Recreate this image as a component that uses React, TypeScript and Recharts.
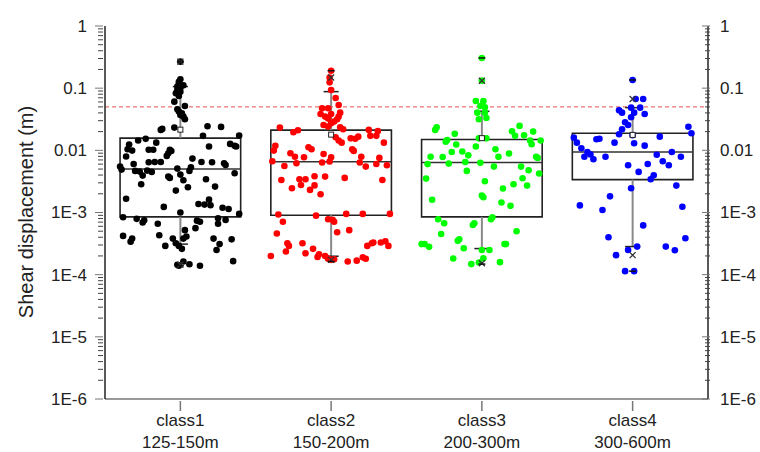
import {
  ComposedChart,
  Scatter,
  XAxis,
  YAxis,
  ReferenceArea,
  ReferenceLine,
  ReferenceDot,
} from 'recharts';

const categories = ['class1', 'class2', 'class3', 'class4'];
const depthRanges = ['125-150m', '150-200m', '200-300m', '300-600m'];
const seriesColors = ['#000000', '#ff0000', '#00ff00', '#0000ff'];

// [jittered category position, shear displacement in m]
const class1Points: [number, number][] = [
  [1.0, 0.267], [1.0, 0.139], [0.99, 0.127], [0.99, 0.117], [1.02, 0.111], [0.98, 0.106],
  [1.0, 0.102], [0.98, 0.0936], [1.0, 0.0879], [0.97, 0.0827], [0.99, 0.075], [0.96, 0.0607],
  [1.03, 0.0517], [0.98, 0.0457], [0.99, 0.042], [1.01, 0.0394], [1.0, 0.0371], [1.02, 0.0349],
  [1.03, 0.0316], [0.88, 0.0221], [0.87, 0.0213], [0.96, 0.0232], [1.18, 0.0244], [1.27, 0.0238],
  [1.15, 0.0171], [1.39, 0.0173], [0.66, 0.0124], [0.72, 0.0144], [0.77, 0.0153], [0.84, 0.0133],
  [0.65, 0.0104], [0.68, 0.0099], [0.79, 0.0102], [0.82, 0.0102], [0.93, 0.0102], [0.94, 0.00977],
  [0.92, 0.00897], [1.33, 0.0127], [1.36, 0.0118], [1.37, 0.0115], [1.19, 0.0115], [0.64, 0.00794],
  [0.69, 0.00604], [0.79, 0.00643], [0.83, 0.0065], [0.87, 0.0065], [0.91, 0.00813], [1.08, 0.00736],
  [1.14, 0.0065], [1.21, 0.00643], [1.29, 0.0062], [1.3, 0.00582], [0.6, 0.00548], [0.61, 0.0049],
  [0.7, 0.00467], [0.73, 0.00455], [0.75, 0.00392], [0.78, 0.00472], [0.81, 0.0045], [0.98, 0.00508],
  [1.07, 0.00535], [1.06, 0.00467], [1.36, 0.00428], [1.0, 0.00407], [0.92, 0.00378], [0.93, 0.0036],
  [1.02, 0.0033], [1.17, 0.00343], [0.74, 0.00285], [1.05, 0.00255], [1.23, 0.00261], [0.97, 0.00225],
  [0.64, 0.00166], [1.19, 0.00161], [1.12, 0.00137], [1.16, 0.00134], [1.2, 0.00131], [0.89, 0.00123],
  [1.28, 0.00119], [1.32, 0.00114], [1.0, 0.001], [1.39, 0.00095], [0.62, 0.00084], [0.71, 0.00079],
  [0.76, 0.00075], [0.75, 0.00069], [0.85, 0.00066], [1.11, 0.00074], [1.13, 0.00071], [1.25, 0.00081],
  [1.3, 0.00076], [1.25, 0.00066], [1.1, 0.00056], [1.03, 0.00052], [0.62, 0.00042], [0.68, 0.00038],
  [0.67, 0.00034], [0.86, 0.00043], [0.95, 0.00038], [0.97, 0.00032], [1.02, 0.00038], [1.04, 0.00041],
  [0.99, 0.00029], [1.01, 0.00026], [0.9, 0.00029], [1.22, 0.00038], [1.34, 0.00037], [1.26, 0.00031],
  [1.24, 0.00025], [0.98, 0.000144], [0.99, 0.000139], [1.02, 0.000163], [1.06, 0.000147],
  [1.13, 0.000139], [1.35, 0.000165],
];

const class2Points: [number, number][] = [
  [2.0, 0.191], [1.99, 0.148], [1.99, 0.124], [2.0, 0.0936], [2.03, 0.0695], [2.05, 0.0537],
  [1.94, 0.0475], [1.98, 0.0475], [2.06, 0.0404], [1.93, 0.0385], [2.0, 0.0385], [1.96, 0.0349],
  [1.98, 0.0324], [2.05, 0.0349], [2.04, 0.0316], [2.02, 0.029], [2.0, 0.0272], [1.95, 0.0256],
  [1.98, 0.0241], [2.06, 0.0235], [2.08, 0.0218], [1.66, 0.0232], [1.75, 0.0195], [1.78, 0.021],
  [2.25, 0.0213], [2.31, 0.0205], [2.26, 0.0171], [2.3, 0.0171], [2.03, 0.0162], [2.05, 0.0144],
  [2.07, 0.0133], [2.13, 0.0156], [2.16, 0.0154], [2.18, 0.0166], [2.35, 0.0133], [1.63, 0.0118],
  [1.62, 0.0099], [1.85, 0.0112], [1.87, 0.0104], [1.73, 0.009], [1.76, 0.0079], [1.82, 0.00774],
  [1.95, 0.00875], [2.0, 0.00774], [2.14, 0.0104], [2.15, 0.0098], [2.2, 0.0079], [2.32, 0.00755],
  [1.61, 0.00667], [1.69, 0.00561], [1.77, 0.0062], [1.94, 0.00636], [1.99, 0.0066], [2.19, 0.00636],
  [2.23, 0.00547], [2.3, 0.00604], [2.37, 0.00575], [1.67, 0.00334], [1.79, 0.00343], [1.83, 0.00343],
  [1.89, 0.00383], [1.96, 0.00378], [2.09, 0.0036], [2.34, 0.00334], [1.74, 0.00245], [1.8, 0.00277],
  [1.86, 0.00231], [1.89, 0.00273], [1.93, 0.00197], [1.65, 0.00093], [1.9, 0.00089], [2.1, 0.00095],
  [2.21, 0.00095], [2.39, 0.00095], [1.68, 0.00071], [1.98, 0.00078], [2.01, 0.00076], [2.02, 0.00071],
  [1.64, 0.00046], [2.04, 0.00048], [2.12, 0.00052], [1.71, 0.00032], [1.72, 0.00029], [1.81, 0.00032],
  [1.88, 0.00026], [1.7, 0.000236], [1.83, 0.000221], [1.92, 0.000213], [1.91, 0.000193], [1.6, 0.0002],
  [2.24, 0.00029], [2.27, 0.00032], [2.28, 0.00033], [2.33, 0.00033], [2.36, 0.000345], [2.38, 0.00029],
  [1.96, 0.0002], [1.98, 0.000181], [2.0, 0.000173], [2.02, 0.000177], [2.11, 0.000163], [2.17, 0.000168],
  [2.21, 0.00019], [2.23, 0.00018],
];

const class3Points: [number, number][] = [
  [3.0, 0.306], [3.0, 0.132], [2.96, 0.0623], [3.01, 0.0618], [2.99, 0.0517], [3.02, 0.0493],
  [2.97, 0.0404], [3.02, 0.0404], [2.98, 0.0316], [3.03, 0.0332], [2.7, 0.0235], [2.69, 0.0213],
  [2.82, 0.0184], [3.2, 0.0203], [3.25, 0.0247], [3.22, 0.0171], [3.28, 0.0175], [3.34, 0.02],
  [2.76, 0.0138], [2.77, 0.0147], [2.98, 0.0156], [3.03, 0.0156], [3.32, 0.0144], [3.33, 0.0125],
  [3.39, 0.0144], [2.83, 0.0124], [2.8, 0.0094], [2.87, 0.0096], [2.91, 0.0083], [2.96, 0.0115],
  [3.09, 0.0104], [3.11, 0.0079], [3.18, 0.0089], [2.66, 0.0079], [2.74, 0.0078], [2.89, 0.0065],
  [2.78, 0.00612], [2.64, 0.006], [2.99, 0.0063], [3.36, 0.0079], [3.37, 0.00755], [2.9, 0.00467],
  [3.08, 0.00547], [3.26, 0.00547], [3.31, 0.00479], [3.38, 0.00423], [2.63, 0.00351], [3.27, 0.00355],
  [3.02, 0.00318], [3.21, 0.00285], [3.3, 0.00271], [3.14, 0.00243], [3.0, 0.00187], [3.01, 0.00176],
  [2.67, 0.0016], [3.13, 0.00145], [3.19, 0.00128], [2.71, 0.00078], [2.75, 0.00067], [2.94, 0.00063],
  [2.95, 0.00067], [3.06, 0.00078], [3.07, 0.00084], [2.73, 0.00045], [3.23, 0.0005], [2.6, 0.00031],
  [2.62, 0.00031], [2.65, 0.00028], [2.84, 0.00035], [2.85, 0.00037], [2.88, 0.000266], [3.0, 0.00025],
  [3.05, 0.00025], [3.01, 0.000184], [2.98, 0.000157], [2.93, 0.000148], [2.81, 0.000182],
  [3.12, 0.000159], [3.15, 0.00031], [3.16, 0.00031],
];

const class4Points: [number, number][] = [
  [4.0, 0.1355], [4.02, 0.067], [4.07, 0.067], [3.99, 0.0486], [4.05, 0.0486], [3.91, 0.044],
  [3.93, 0.0404], [4.01, 0.0404], [4.08, 0.0385], [3.99, 0.034], [3.95, 0.0283], [3.97, 0.0256],
  [3.93, 0.0218], [3.91, 0.0181], [4.0, 0.0175], [4.37, 0.024], [4.39, 0.0188], [3.61, 0.016],
  [3.63, 0.0133], [3.76, 0.0151], [3.78, 0.0154], [3.88, 0.0133], [4.01, 0.013], [4.08, 0.0119],
  [4.18, 0.0166], [3.66, 0.0108], [3.7, 0.0094], [3.72, 0.0086], [3.68, 0.0079], [3.74, 0.0072],
  [3.82, 0.0079], [4.16, 0.0085], [4.2, 0.00667], [4.24, 0.00575], [4.26, 0.0094], [4.32, 0.0079],
  [3.97, 0.00575], [4.1, 0.00604], [4.04, 0.0045], [4.14, 0.00397], [4.12, 0.00343], [3.99, 0.00245],
  [3.85, 0.00182], [4.29, 0.00271], [3.65, 0.0013], [3.8, 0.0011], [4.33, 0.00124], [4.07, 0.00062],
  [3.84, 0.0004], [4.35, 0.000385], [4.03, 0.000283], [3.97, 0.00025], [3.89, 0.000206],
  [4.22, 0.000283], [4.28, 0.000247], [3.95, 0.000114], [4.01, 0.000114],
];

const classPoints = [class1Points, class2Points, class3Points, class4Points];

// box statistics per class
const q1 = [0.00085, 0.000905, 0.00085, 0.00338];
const medians = [0.005, 0.00658, 0.0064, 0.0094];
const q3 = [0.0157, 0.0211, 0.0149, 0.0188];
const whiskerLow = [0.00031, 0.000198, 0.000263, 0.000283];
const whiskerHigh = [0.106, 0.0879, 0.0425, 0.0486];
const means = [0.0215, 0.0179, 0.0157, 0.0177];
const p1 = [0.000144, 0.000173, 0.000153, 0.000206];
const p99 = [0.267, 0.148, 0.132, 0.067];
const minima = [0.000139, 0.000163, 0.000148, 0.000114];
const maxima = [0.267, 0.191, 0.306, 0.1355];

const threshold = 0.05;

const decadeTicks = [1e-6, 1e-5, 1e-4, 1e-3, 0.01, 0.1, 1];
const decadeLabels = ['1E-6', '1E-5', '1E-4', '1E-3', '0.01', '0.1', '1'];

const boxHalf = 0.4;
const capHalf = 0.05;
const font = '"Liberation Sans", Arial, sans-serif';

// decades plus the 2..9 minor marks between them
const allYTicks: number[] = [];
decadeTicks.forEach((d, i) => {
  allYTicks.push(d);
  if (i < decadeTicks.length - 1) {
    for (let k = 2; k <= 9; k++) allYTicks.push(+(k * d).toPrecision(3));
  }
});

const labelFor = (v: number) => {
  const i = decadeTicks.findIndex((d) => Math.abs(d - v) / d < 1e-6);
  return i >= 0 ? decadeLabels[i] : null;
};

const LeftTick = ({ x, y, payload }: any) => {
  const label = labelFor(payload.value);
  return (
    <g>
      <line x1={x - (label ? 8 : 5)} x2={x} y1={y} y2={y} stroke={label ? '#777' : '#444'} strokeWidth={1} />
      {label && (
        <text x={x - 16} y={y} dy="0.35em" textAnchor="end" fontSize={17} fontFamily={font} fill="#222">
          {label}
        </text>
      )}
    </g>
  );
};

const RightTick = ({ x, y, payload }: any) => {
  const label = labelFor(payload.value);
  return (
    <g>
      <line x1={x - (label ? 8 : 5)} x2={x} y1={y} y2={y} stroke={label ? '#777' : '#444'} strokeWidth={1} />
      {label && (
        <text x={x + 10} y={y} dy="0.35em" textAnchor="start" fontSize={17} fontFamily={font} fill="#222">
          {label}
        </text>
      )}
    </g>
  );
};

const ClassTick = ({ x, y, payload }: any) => {
  const i = Math.round(payload.value) - 1;
  return (
    <g>
      <line x1={x} x2={x} y1={y} y2={y + 10} stroke="#777" strokeWidth={1.5} />
      <text x={x} y={y + 25} textAnchor="middle" fontSize={17} fontFamily={font} fill="#222">
        {categories[i]}
      </text>
      <text x={x} y={y + 47} textAnchor="middle" fontSize={17} fontFamily={font} fill="#222">
        {depthRanges[i]}
      </text>
    </g>
  );
};

const MeanMarker = ({ cx, cy }: any) => (
  <rect x={cx - 2.5} y={cy - 2.5} width={5} height={5} fill="#fff" stroke="#222" strokeWidth={1} />
);

const CrossMarker = ({ cx, cy }: any) => (
  <path d={`M${cx - 3},${cy - 3}L${cx + 3},${cy + 3}M${cx - 3},${cy + 3}L${cx + 3},${cy - 3}`} stroke="#333" strokeWidth={1.3} />
);

const DashMarker = ({ cx, cy }: any) => (
  <line x1={cx - 3.5} x2={cx + 3.5} y1={cy} y2={cy} stroke="#111" strokeWidth={1.5} />
);

const yTitle = () => (
  <text x={33} y={212} transform="rotate(-90 33 212)" textAnchor="middle" fontSize={20} fontFamily={font} fill="#222">
    Shear displacement (m)
  </text>
);

export default function App() {
  return (
    <div style={{ position: 'absolute', left: 0, top: 0, width: 760, height: 452, background: '#fff' }}>
      <ComposedChart width={760} height={452} margin={{ top: 26, right: 0, bottom: 0, left: 0 }}>
        <XAxis
          xAxisId="cls"
          dataKey="x"
          type="number"
          domain={[0.5, 4.5]}
          ticks={[1, 2, 3, 4]}
          interval={0}
          height={53}
          tickSize={0}
          tick={<ClassTick />}
          stroke="#777"
          strokeWidth={1.5}
          allowDataOverflow
        />
        <YAxis
          yAxisId="left"
          orientation="left"
          dataKey="y"
          type="number"
          scale="log"
          domain={[1e-6, 1]}
          ticks={allYTicks}
          interval={0}
          width={105}
          tickSize={0}
          tick={<LeftTick />}
          stroke="#222"
          strokeWidth={1.5}
          allowDataOverflow
          label={{ content: yTitle }}
        />
        <YAxis
          yAxisId="right"
          orientation="right"
          type="number"
          scale="log"
          domain={[1e-6, 1]}
          ticks={allYTicks}
          interval={0}
          width={52}
          tickSize={0}
          tick={<RightTick />}
          stroke="#222"
          strokeWidth={1.5}
          allowDataOverflow
        />

        {categories.map((c, i) => (
          <ReferenceLine
            key={`wl-${c}`}
            xAxisId="cls"
            yAxisId="left"
            segment={[{ x: i + 1, y: whiskerLow[i] }, { x: i + 1, y: q1[i] }]}
            stroke="#888"
            strokeWidth={2}
          />
        ))}
        {categories.map((c, i) => (
          <ReferenceLine
            key={`wh-${c}`}
            xAxisId="cls"
            yAxisId="left"
            segment={[{ x: i + 1, y: q3[i] }, { x: i + 1, y: whiskerHigh[i] }]}
            stroke="#888"
            strokeWidth={2}
          />
        ))}
        {categories.map((c, i) => (
          <ReferenceArea
            key={`box-${c}`}
            xAxisId="cls"
            yAxisId="left"
            x1={i + 1 - boxHalf}
            x2={i + 1 + boxHalf}
            y1={q1[i]}
            y2={q3[i]}
            fill="#fff"
            fillOpacity={0}
            stroke="#222"
            strokeWidth={1.6}
          />
        ))}
        {categories.map((c, i) => (
          <ReferenceLine
            key={`med-${c}`}
            xAxisId="cls"
            yAxisId="left"
            segment={[{ x: i + 1 - boxHalf, y: medians[i] }, { x: i + 1 + boxHalf, y: medians[i] }]}
            stroke="#333"
            strokeWidth={1.5}
          />
        ))}

        <ReferenceLine
          xAxisId="cls"
          yAxisId="left"
          y={threshold}
          stroke="#e85050"
          strokeDasharray="4 3"
          strokeWidth={1}
        />

        {classPoints.map((pts, i) => (
          <Scatter
            key={`pts-${categories[i]}`}
            xAxisId="cls"
            yAxisId="left"
            data={pts.map(([x, y]) => ({ x, y }))}
            dataKey="y"
            isAnimationActive={false}
            shape={(p: any) => <circle cx={p.cx} cy={p.cy} r={3.3} fill={seriesColors[i]} />}
          />
        ))}

        {categories.map((c, i) => (
          <ReferenceLine
            key={`capL-${c}`}
            xAxisId="cls"
            yAxisId="left"
            segment={[{ x: i + 1 - capHalf, y: whiskerLow[i] }, { x: i + 1 + capHalf, y: whiskerLow[i] }]}
            stroke="#222"
            strokeWidth={1.5}
          />
        ))}
        {categories.map((c, i) => (
          <ReferenceLine
            key={`capH-${c}`}
            xAxisId="cls"
            yAxisId="left"
            segment={[{ x: i + 1 - capHalf, y: whiskerHigh[i] }, { x: i + 1 + capHalf, y: whiskerHigh[i] }]}
            stroke="#222"
            strokeWidth={1.5}
          />
        ))}
        {categories.map((c, i) => (
          <ReferenceDot key={`mean-${c}`} xAxisId="cls" yAxisId="left" x={i + 1} y={means[i]} shape={<MeanMarker />} />
        ))}
        {categories.map((c, i) => (
          <ReferenceDot key={`p1-${c}`} xAxisId="cls" yAxisId="left" x={i + 1} y={p1[i]} shape={<CrossMarker />} />
        ))}
        {categories.map((c, i) => (
          <ReferenceDot key={`p99-${c}`} xAxisId="cls" yAxisId="left" x={i + 1} y={p99[i]} shape={<CrossMarker />} />
        ))}
        {categories.map((c, i) => (
          <ReferenceDot key={`min-${c}`} xAxisId="cls" yAxisId="left" x={i + 1} y={minima[i]} shape={<DashMarker />} />
        ))}
        {categories.map((c, i) => (
          <ReferenceDot key={`max-${c}`} xAxisId="cls" yAxisId="left" x={i + 1} y={maxima[i]} shape={<DashMarker />} />
        ))}
      </ComposedChart>
    </div>
  );
}
